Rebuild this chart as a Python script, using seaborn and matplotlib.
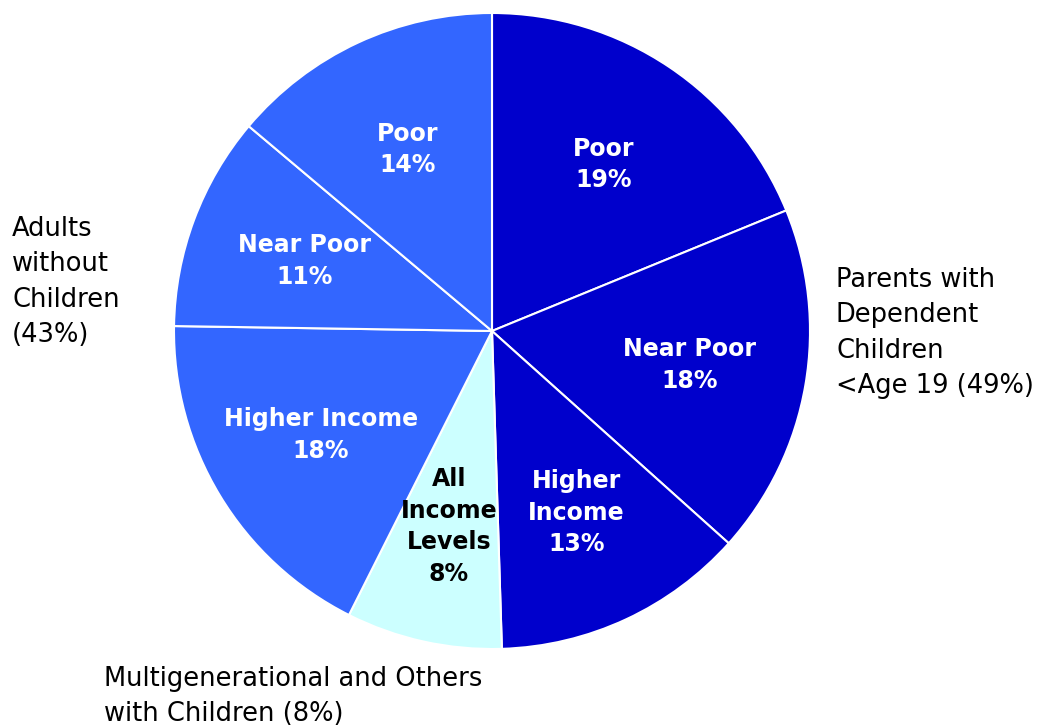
import matplotlib
matplotlib.use("Agg")
import matplotlib.pyplot as plt
import seaborn as sns

sns.set_theme(style="white")
plt.rcParams["font.family"] = ["DejaVu Sans"]

# Shares of the population, clockwise from 12 o'clock
segments = ["Poor", "Near Poor", "Higher Income", "All Income Levels",
            "Higher Income", "Near Poor", "Poor"]
segment_labels = ["Poor", "Near Poor", "Higher\nIncome", "All\nIncome\nLevels",
                  "Higher Income", "Near Poor", "Poor"]
shares = [19, 18, 13, 8, 18, 11, 14]
groups = ["Parents", "Parents", "Parents", "Multigenerational",
          "Adults", "Adults", "Adults"]

group_colors = {"Parents": "#0000CC", "Multigenerational": "#CCFFFF", "Adults": "#3366FF"}
group_text_colors = {"Parents": "white", "Multigenerational": "black", "Adults": "white"}

group_titles = {
    "Adults": "Adults\nwithout\nChildren\n(43%)",
    "Parents": "Parents with\nDependent\nChildren\n<Age 19 (49%)",
    "Multigenerational": "Multigenerational and Others\nwith Children (8%)",
}

W, H = 1038, 726
fig = plt.figure(figsize=(W / 100, H / 100), dpi=100)
ax = fig.add_axes([0, 0, 1, 1])

labels = [f"{lab}\n{v}%" for lab, v in zip(segment_labels, shares)]
colors = [group_colors[g] for g in groups]

wedges, texts = ax.pie(
    shares,
    labels=labels,
    colors=colors,
    startangle=90,
    counterclock=False,
    center=(492, H - 331),
    radius=318,
    labeldistance=0.63,
    wedgeprops=dict(edgecolor="white", linewidth=1.5),
    textprops=dict(fontsize=17, fontweight="bold", linespacing=1.4),
    frame=True,
)
for t, g in zip(texts, groups):
    t.set_ha("center")
    t.set_va("center")
    t.set_color(group_text_colors[g])

ax.set_xlim(0, W)
ax.set_ylim(0, H)
ax.set_aspect("equal")
ax.axis("off")

outer_kw = dict(fontsize=18.5, color="black", ha="left", va="top", linespacing=1.47)
ax.text(12, H - 216, group_titles["Adults"], **outer_kw)
ax.text(836, H - 267, group_titles["Parents"], **outer_kw)
ax.text(104, H - 666, group_titles["Multigenerational"], **outer_kw)

fig.savefig("out.png", dpi=100, facecolor="white")
